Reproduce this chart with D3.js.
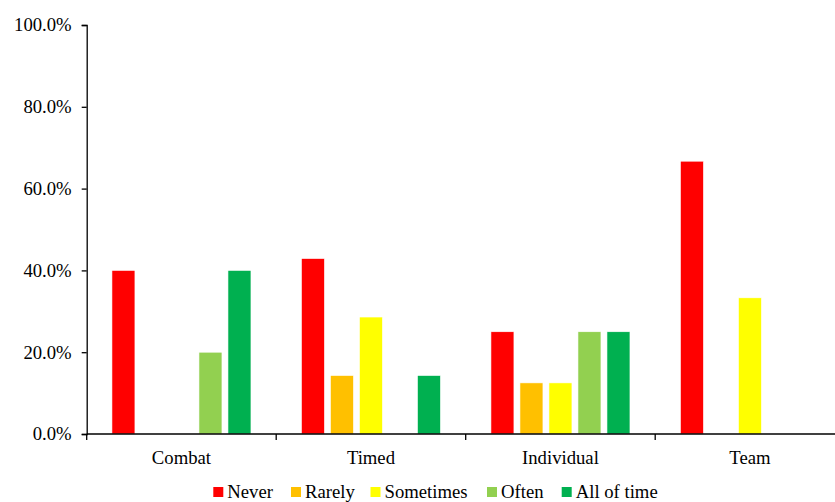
<!DOCTYPE html>
<html><head><meta charset="utf-8">
<script src="https://cdn.jsdelivr.net/npm/d3@7"></script>
<style>
body{margin:0;background:#fff;}
svg{display:block;font-family:"Liberation Serif","Times New Roman",serif;}
</style></head>
<body><svg id="c" width="835" height="502"></svg>
<script>
const categories = ["Combat", "Timed", "Individual", "Team"];
const seriesNames = ["Never", "Rarely", "Sometimes", "Often", "All of time"];
const seriesColors = ["#FF0000", "#FFC000", "#FFFF00", "#92D050", "#00B050"];
const never     = [0.40, 0.429, 0.25, 0.667];
const rarely    = [0,    0.143, 0.125, 0];
const sometimes = [0,    0.286, 0.125, 0.333];
const often     = [0.20, 0,     0.25,  0];
const allOfTime = [0.40, 0.143, 0.25,  0];
const seriesValues = [never, rarely, sometimes, often, allOfTime];
const yTicks = [0, 0.2, 0.4, 0.6, 0.8, 1.0];
const FS = 18.7;

const svg = d3.select("#c");
const x0 = d3.scaleBand().domain(categories).range([86.7, 844.7]).padding(0);
const x1 = d3.scaleBand().domain(seriesNames).range([0, x0.bandwidth()])
  .paddingInner(0.207).paddingOuter(0.87);
const y = d3.scaleLinear().domain([0, 1]).range([434, 25]);

// bars
const data = [];
categories.forEach((c, ci) => seriesNames.forEach((s, si) => {
  data.push({c, s, v: seriesValues[si][ci], color: seriesColors[si]});
}));
svg.append("g").selectAll("rect").data(data.filter(d => d.v > 0)).join("rect")
  .attr("x", d => x0(d.c) + x1(d.s))
  .attr("width", x1.bandwidth())
  .attr("y", d => y(d.v))
  .attr("height", d => y(0) - y(d.v))
  .attr("fill", d => d.color)
  .attr("stroke", "#fff").attr("stroke-width", 0.6);

// y axis
const yAxis = svg.append("g").attr("transform", "translate(86.7,0)")
  .call(d3.axisLeft(y).tickValues(yTicks).tickFormat(d3.format(".1%")).tickSize(5).tickPadding(10));
yAxis.select(".domain").attr("stroke", "#000").attr("stroke-width", 1.3);
yAxis.selectAll(".tick line").attr("stroke", "#000").attr("stroke-width", 1.3);
yAxis.selectAll("text").attr("font-size", FS).attr("fill", "#000")
  .attr("font-family", "Liberation Serif");

// x axis line and boundary ticks
const xg = svg.append("g");
xg.append("line").attr("x1", x0.range()[0]).attr("x2", x0.range()[1])
  .attr("y1", y(0)).attr("y2", y(0)).attr("stroke", "#000").attr("stroke-width", 1.3);
const bounds = categories.map(c => x0(c)).concat([x0.range()[1]]);
xg.selectAll("line.tk").data(bounds).join("line").attr("class", "tk")
  .attr("x1", d => d).attr("x2", d => d)
  .attr("y1", y(0)).attr("y2", y(0) + 6)
  .attr("stroke", "#000").attr("stroke-width", 1.3);
xg.selectAll("text").data(categories).join("text")
  .attr("x", d => x0(d) + x0.bandwidth() / 2)
  .attr("y", 464)
  .attr("text-anchor", "middle")
  .attr("font-size", FS).attr("fill", "#000")
  .text(d => d);

// legend
const legendX = [213.3, 291, 370.5, 487, 561.7];
const lg = svg.append("g");
seriesNames.forEach((s, i) => {
  lg.append("rect").attr("x", legendX[i]).attr("y", 487).attr("width", 10).attr("height", 10)
    .attr("fill", seriesColors[i]);
  lg.append("text").attr("x", legendX[i] + 14).attr("y", 498)
    .attr("font-size", FS).attr("fill", "#000").text(s);
});
</script></body></html>
